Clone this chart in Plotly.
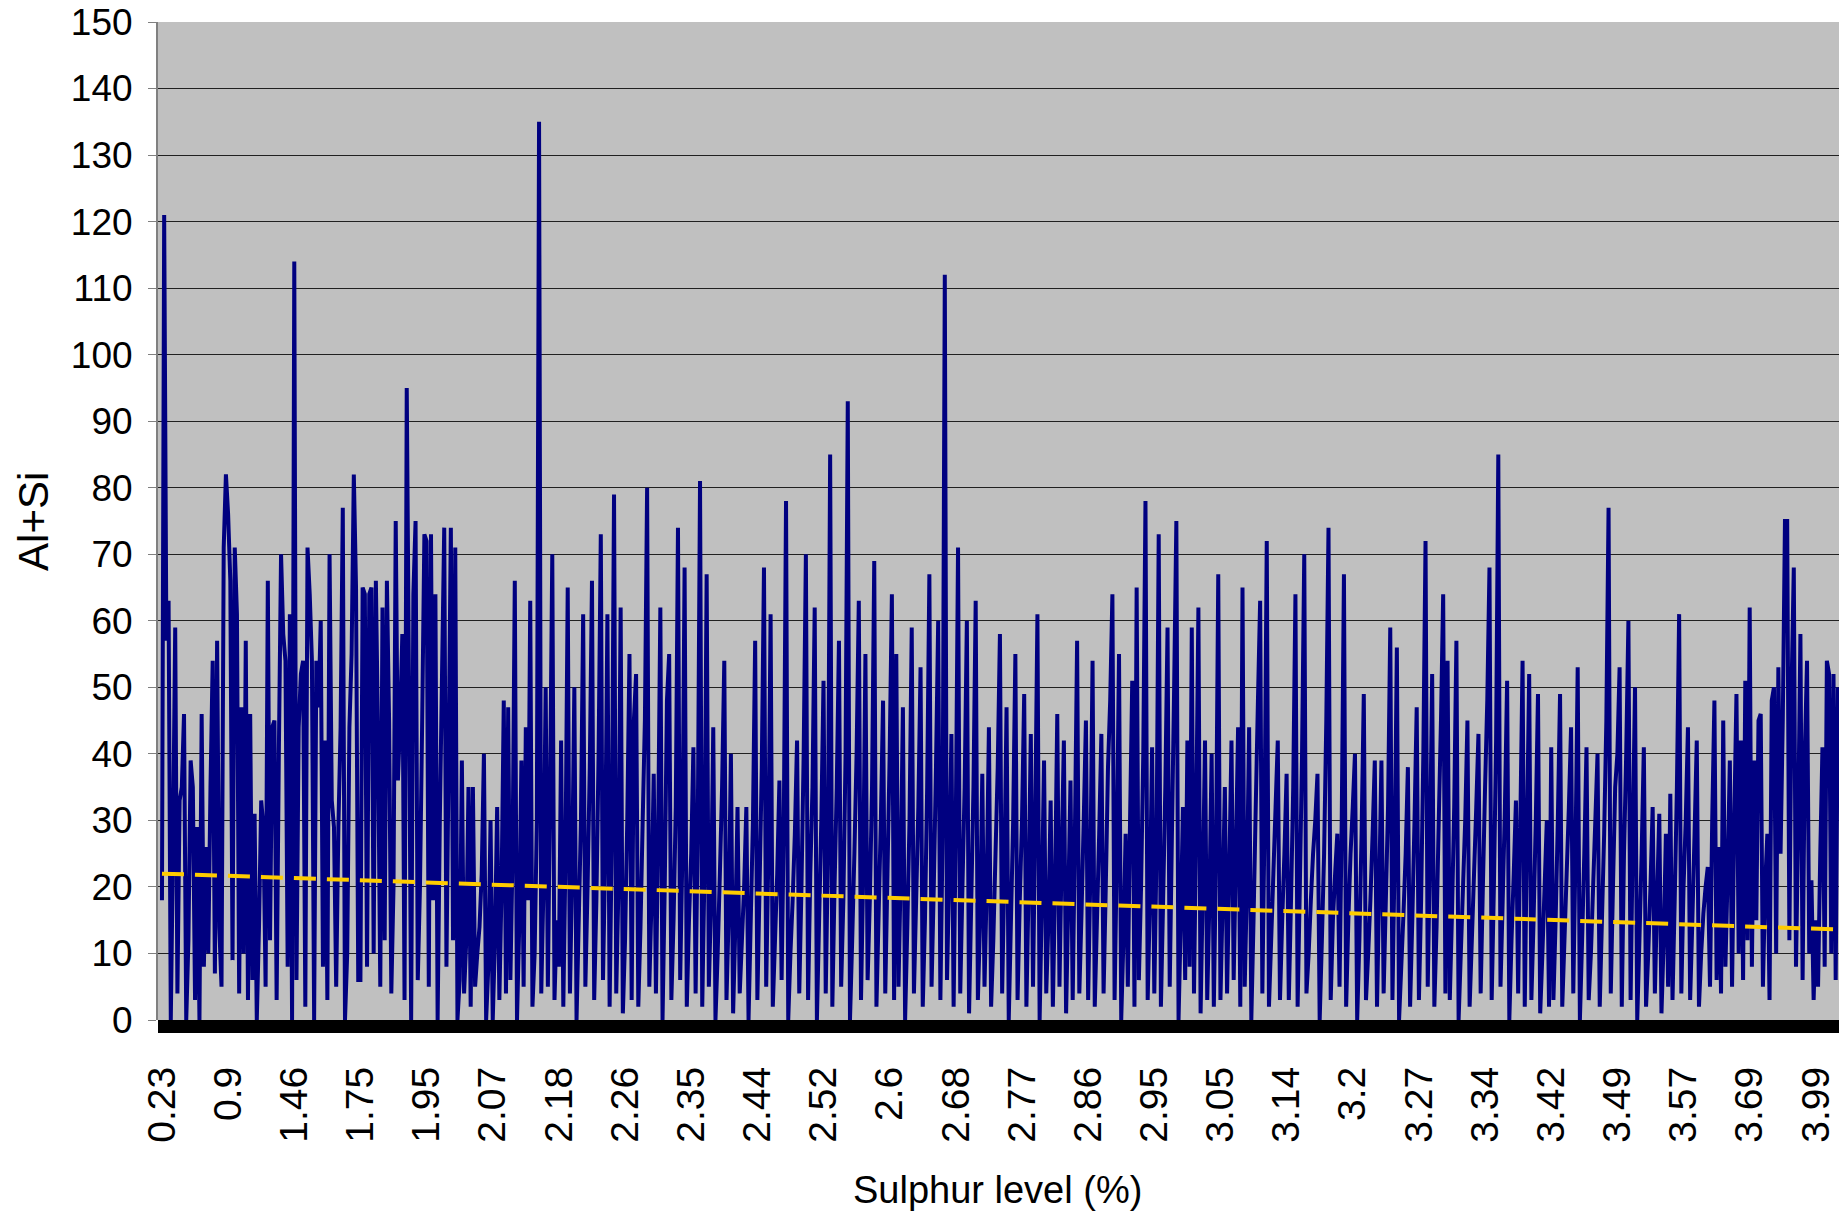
import plotly.graph_objects as go

# Sulphur level shown under every 30th sample
tick_labels = ["0.23", "0.9", "1.46", "1.75", "1.95", "2.07", "2.18", "2.26", "2.35",
               "2.44", "2.52", "2.6", "2.68", "2.77", "2.86", "2.95", "3.05", "3.14",
               "3.2", "3.27", "3.34", "3.42", "3.49", "3.57", "3.69", "3.99"]
label_step = 30

# Al+Si per sample, ordered by sulphur level (one row per labelled block)
al_si = [
    18, 121, 57, 63, 0, 26, 59, 4, 33, 35, 46, 0, 12, 39, 35, 3, 29, 0, 46, 8, 26, 10, 35, 54, 7, 57, 14, 5, 71, 82,
    76, 66, 9, 71, 61, 4, 47, 10, 57, 3, 46, 6, 31, 0, 14, 33, 29, 5, 66, 12, 44, 45, 3, 40, 70, 58, 54, 8, 61, 0,
    114, 6, 44, 52, 54, 2, 71, 64, 54, 0, 54, 47, 60, 8, 42, 3, 70, 33, 29, 5, 29, 44, 77, 0, 10, 44, 55, 82, 65, 6,
    6, 65, 64, 8, 64, 65, 10, 66, 42, 5, 62, 12, 66, 45, 4, 20, 75, 36, 45, 58, 3, 95, 51, 0, 64, 75, 6, 20, 45, 73,
    72, 5, 73, 18, 64, 0, 30, 52, 74, 8, 40, 74, 12, 71, 0, 6, 39, 4, 12, 35, 2, 35, 5, 10, 14, 22, 40, 0, 8, 30,
    0, 12, 32, 3, 20, 48, 4, 47, 6, 25, 66, 0, 14, 39, 5, 44, 18, 63, 2, 10, 30, 135, 4, 20, 50, 5, 35, 70, 3, 15,
    8, 42, 2, 25, 65, 4, 22, 50, 0, 15, 30, 61, 5, 20, 38, 66, 3, 18, 40, 73, 6, 25, 61, 2, 28, 79, 4, 20, 62, 1,
    12, 30, 55, 3, 45, 52, 2, 14, 30, 45, 80, 5, 18, 37, 4, 28, 62, 0, 20, 48, 55, 3, 15, 32, 74, 6, 25, 68, 2, 15,
    25, 41, 4, 30, 81, 2, 22, 67, 5, 18, 44, 0, 10, 22, 35, 54, 3, 16, 40, 1, 14, 32, 4, 12, 20, 32, 0, 15, 30, 57,
    3, 20, 38, 68, 5, 25, 61, 2, 12, 22, 36, 6, 30, 78, 0, 10, 18, 28, 42, 4, 20, 40, 70, 3, 22, 35, 62, 0, 15, 30,
    51, 4, 25, 85, 2, 20, 35, 57, 5, 18, 40, 93, 0, 12, 25, 40, 63, 3, 22, 55, 6, 18, 35, 69, 2, 16, 30, 48, 4, 22,
    40, 64, 3, 55, 5, 22, 47, 0, 14, 30, 59, 4, 18, 32, 53, 2, 15, 35, 67, 5, 20, 38, 60, 3, 28, 112, 6, 22, 43, 2,
    30, 71, 4, 20, 35, 60, 1, 18, 35, 63, 3, 15, 37, 5, 20, 44, 2, 12, 25, 38, 58, 4, 22, 47, 0, 15, 30, 55, 3, 18,
    30, 49, 2, 20, 43, 5, 30, 61, 0, 18, 39, 4, 15, 33, 2, 20, 46, 5, 25, 42, 1, 18, 36, 3, 28, 57, 4, 16, 30, 45,
    3, 22, 54, 2, 15, 28, 43, 4, 20, 38, 48, 64, 3, 25, 55, 0, 12, 28, 5, 30, 51, 2, 65, 6, 20, 40, 78, 3, 18, 41,
    4, 25, 73, 2, 18, 35, 59, 5, 28, 50, 75, 0, 15, 32, 6, 42, 8, 59, 4, 30, 62, 1, 20, 42, 3, 18, 40, 2, 25, 67,
    3, 18, 35, 4, 22, 42, 6, 25, 44, 2, 65, 5, 20, 44, 0, 15, 32, 48, 63, 4, 30, 72, 2, 12, 22, 32, 42, 3, 15, 25,
    37, 3, 18, 35, 64, 2, 20, 40, 70, 4, 10, 18, 25, 30, 37, 0, 12, 25, 45, 74, 3, 15, 22, 28, 5, 30, 67, 2, 15, 25,
    32, 40, 0, 12, 28, 49, 3, 10, 18, 28, 39, 2, 20, 39, 4, 18, 32, 59, 3, 25, 56, 0, 8, 16, 25, 38, 2, 15, 30, 47,
    3, 18, 40, 72, 5, 25, 52, 2, 14, 30, 45, 64, 4, 54, 3, 16, 32, 57, 0, 10, 20, 30, 45, 2, 12, 22, 32, 43, 4, 20,
    35, 48, 68, 3, 20, 42, 85, 5, 18, 32, 51, 0, 12, 22, 33, 4, 30, 54, 2, 28, 52, 3, 15, 30, 49, 1, 10, 20, 30, 2,
    41, 3, 15, 30, 49, 2, 12, 22, 32, 44, 4, 25, 53, 0, 12, 25, 41, 3, 10, 20, 30, 40, 2, 15, 28, 45, 77, 4, 20, 35,
    40, 53, 2, 25, 40, 60, 3, 28, 50, 0, 12, 25, 41, 2, 10, 20, 32, 4, 18, 31, 1, 12, 28, 5, 34, 3, 18, 35, 61, 4,
    20, 30, 44, 3, 15, 28, 42, 2, 10, 16, 20, 23, 5, 30, 48, 6, 26, 4, 45, 8, 22, 39, 5, 30, 49, 10, 42, 6, 51, 12,
    62, 8, 39, 15, 45, 46, 5, 20, 28, 3, 48, 50, 10, 53, 25, 45, 75, 75, 12, 50, 68, 8, 30, 58, 6, 40, 54, 10, 21, 3,
    15, 5, 25, 41, 8, 54, 52, 10, 52, 6, 50,
]

# Linear trend of Al+Si, value at first and last sample
trend_line = [22.0, 13.6]

sample_idx = list(range(len(al_si)))
tick_positions = [i * label_step for i in range(len(tick_labels))]

FONT = "Liberation Sans, Arial, sans-serif"

fig = go.Figure()
fig.add_trace(go.Scatter(
    x=sample_idx, y=al_si, mode="lines",
    line=dict(color="#000080", width=4, simplify=False),
    showlegend=False, hoverinfo="skip",
))
fig.add_trace(go.Scatter(
    x=[sample_idx[0], sample_idx[-1]], y=trend_line, mode="lines",
    line=dict(color="#FFCC00", width=4, dash="22px,11px"),
    showlegend=False, hoverinfo="skip",
))

fig.update_layout(
    width=1839, height=1216,
    margin=dict(l=158, r=0, t=22, b=196),
    paper_bgcolor="white",
    plot_bgcolor="#C0C0C0",
    font=dict(family=FONT, color="black"),
    xaxis=dict(
        range=[-1.8, 760.5],
        tickmode="array", tickvals=tick_positions, ticktext=tick_labels,
        tickangle=-90, tickfont=dict(size=39, family=FONT),
        ticks="", ticklabelstandoff=38,
        showgrid=False, zeroline=False, showline=False,
    ),
    yaxis=dict(
        range=[0, 150], dtick=10, tick0=0,
        tickfont=dict(size=37, family=FONT),
        ticks="outside", ticklen=8, tickcolor="#808080", tickwidth=1,
        ticklabelstandoff=8,
        showgrid=True, gridcolor="#202020", gridwidth=1,
        zeroline=False, showline=True, linecolor="#808080", linewidth=2,
    ),
    shapes=[dict(
        type="rect", xref="paper", yref="paper",
        x0=0, x1=1, y0=-0.013, y1=0,
        fillcolor="black", line=dict(width=0), layer="above",
    )],
    annotations=[
        dict(text="Al+Si", xref="paper", yref="paper", x=-0.0744, y=0.5,
             textangle=-90, showarrow=False, font=dict(size=42, family=FONT),
             xanchor="center", yanchor="middle"),
        dict(text="Sulphur level (%)", xref="paper", yref="paper", x=0.4997, y=-0.170,
             showarrow=False, font=dict(size=38, family=FONT),
             xanchor="center", yanchor="middle"),
    ],
)

fig.write_html("out.html")
